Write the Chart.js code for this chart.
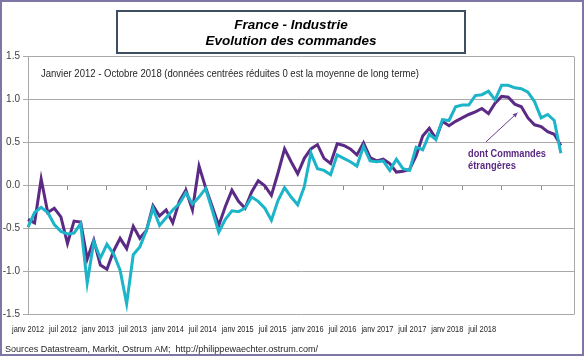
<!DOCTYPE html>
<html>
<head>
<meta charset="utf-8">
<script src="https://cdn.jsdelivr.net/npm/chart.js@4.4.1/dist/chart.umd.min.js"></script>
<style>
html,body{margin:0;padding:0;background:#fff;}
#wrap{position:relative;width:584px;height:356px;}
</style>
</head>
<body>
<div id="wrap"><canvas id="c" width="584" height="356"></canvas></div>
<script>
// ---- Data (monthly, Jan 2012 - Oct 2018; axis runs to Dec 2018) ----
const monthNames = ['janv','févr','mars','avr','mai','juin','juil','août','sept','oct','nov','déc'];
const years = [2012, 2013, 2014, 2015, 2016, 2017, 2018];
const categories = [];
years.forEach(y => monthNames.forEach(m => categories.push(m + ' ' + y)));

// Commandes totales (cyan)
const totalOrders = [
  -0.49, -0.32, -0.26, -0.32, -0.46, -0.54, -0.57, -0.56, -0.45, -1.14, -0.66, -0.85,
  -0.69, -0.80, -0.99, -1.38, -0.81, -0.72, -0.53, -0.27, -0.47, -0.38, -0.29, -0.22,
  -0.09, -0.22, -0.14, -0.04, -0.29, -0.55, -0.40, -0.30, -0.31, -0.27, -0.14, -0.19,
  -0.27, -0.41, -0.18, -0.03, -0.14, -0.23, -0.02, 0.37, 0.19, 0.17, 0.12, 0.35,
  0.31, 0.27, 0.22, 0.45, 0.28, 0.27, 0.28, 0.17, 0.30, 0.19, 0.17, 0.44,
  0.41, 0.59, 0.53, 0.76, 0.75, 0.91, 0.93, 0.93, 1.04, 1.05, 1.09, 0.99,
  1.16, 1.16, 1.13, 1.12, 1.08, 0.97, 0.78, 0.82, 0.75, 0.37
];
// dont Commandes étrangères (violet)
const foreignOrders = [
  -0.40, -0.44, 0.07, -0.32, -0.27, -0.37, -0.68, -0.42, -0.43, -0.86, -0.64, -0.93,
  -0.98, -0.77, -0.62, -0.74, -0.48, -0.62, -0.53, -0.24, -0.36, -0.29, -0.44, -0.19,
  -0.06, -0.29, 0.22, -0.03, -0.25, -0.47, -0.25, -0.06, -0.19, -0.27, -0.08, 0.05,
  -0.01, -0.12, 0.14, 0.42, 0.27, 0.13, 0.31, 0.42, 0.47, 0.31, 0.25, 0.48,
  0.46, 0.42, 0.35, 0.49, 0.32, 0.28, 0.30, 0.25, 0.15, 0.16, 0.18, 0.34,
  0.57, 0.66, 0.54, 0.74, 0.69, 0.74, 0.78, 0.82, 0.85, 0.89, 0.83, 0.95,
  1.03, 1.02, 0.94, 0.91, 0.78, 0.70, 0.68, 0.62, 0.59, 0.46
];
const tickLabels = ['janv 2012','juil 2012','janv 2013','juil 2013','janv 2014','juil 2014',
  'janv 2015','juil 2015','janv 2016','juil 2016','janv 2017','juil 2017','janv 2018','juil 2018'];
const yTicks = [-1.5, -1.0, -0.5, 0.0, 0.5, 1.0, 1.5];

const titleLines = ['France - Industrie', 'Evolution des commandes'];
const subtitle = 'Janvier 2012 - Octobre 2018 (données centrées réduites 0 est la moyenne de long terme)';
const annotationLines = ['dont Commandes', 'étrangères'];
const sourceText = 'Sources Datastream, Markit, Ostrum AM;  http://philippewaechter.ostrum.com/';

const PURPLE = '#5b2a84';
const CYAN = '#1cb4c8';
const GRID = '#a9a9a9';

const decor = {
  id: 'decor',
  beforeDraw(chart) {
    const ctx = chart.ctx;
    ctx.save();
    ctx.fillStyle = '#ffffff';
    ctx.fillRect(0, 0, chart.width, chart.height);
    ctx.restore();
  },
  afterDraw(chart) {
    const ctx = chart.ctx;
    const a = chart.chartArea;
    const xs = chart.scales.x, ys = chart.scales.y;
    ctx.save();
    // plot frame
    ctx.strokeStyle = GRID;
    ctx.lineWidth = 1;
    ctx.beginPath();
    ctx.moveTo(Math.round(a.right) + 0.5, Math.round(a.top) + 0.5);
    ctx.lineTo(Math.round(a.right) + 0.5, Math.round(a.bottom) + 0.5);
    ctx.stroke();

    // title box
    ctx.fillStyle = '#ffffff';
    ctx.fillRect(117, 11, 348, 42);
    ctx.strokeStyle = '#3e4d60';
    ctx.lineWidth = 2;
    ctx.strokeRect(117, 11, 348, 42);
    ctx.fillStyle = '#000000';
    ctx.font = 'italic bold 13.5px "Liberation Sans"';
    ctx.textAlign = 'center';
    ctx.textBaseline = 'alphabetic';
    ctx.fillText(titleLines[0], 291, 29);
    ctx.fillText(titleLines[1], 291, 45, 182);

    // subtitle
    ctx.textAlign = 'left';
    ctx.fillStyle = '#262626';
    ctx.font = '10.5px "Liberation Sans"';
    ctx.fillText(subtitle, a.left + 13, 77, 378);

    // x label row
    ctx.font = '9.5px "Liberation Sans"';
    ctx.fillStyle = '#262626';
    ctx.textAlign = 'center';
    const step = 34.94;
    tickLabels.forEach((t, k) => {
      const mw = t.indexOf('janv') === 0 ? 32 : 28;
      ctx.fillText(t, a.left + k * step, 332, mw);
    });

    // annotation
    ctx.fillStyle = PURPLE;
    ctx.textAlign = 'left';
    ctx.font = 'bold 10px "Liberation Sans"';
    ctx.fillText(annotationLines[0], 468, 157, 78);
    ctx.fillText(annotationLines[1], 468, 168.5, 48);
    // arrow towards the foreign-orders line
    const tipX = xs.getPixelForValue(74.4), tipY = ys.getPixelForValue(0.84);
    const tailX = xs.getPixelForValue(69.6), tailY = ys.getPixelForValue(0.50);
    ctx.strokeStyle = '#6b3b93';
    ctx.lineWidth = 1;
    ctx.beginPath();
    ctx.moveTo(tailX, tailY);
    ctx.lineTo(tipX, tipY);
    ctx.stroke();
    const ang = Math.atan2(tipY - tailY, tipX - tailX);
    ctx.fillStyle = '#6b3b93';
    ctx.beginPath();
    ctx.moveTo(tipX, tipY);
    ctx.lineTo(tipX - 5 * Math.cos(ang - 0.45), tipY - 5 * Math.sin(ang - 0.45));
    ctx.lineTo(tipX - 5 * Math.cos(ang + 0.45), tipY - 5 * Math.sin(ang + 0.45));
    ctx.closePath();
    ctx.fill();

    // source
    ctx.fillStyle = '#262626';
    ctx.font = '9.5px "Liberation Sans"';
    ctx.fillText(sourceText, 5, 352, 313);

    // outer border
    ctx.strokeStyle = '#7d77a5';
    ctx.lineWidth = 2;
    ctx.strokeRect(1, 1, chart.width - 2, chart.height - 2);
    ctx.restore();
  }
};

new Chart(document.getElementById('c'), {
  type: 'line',
  data: {
    labels: categories,
    datasets: [
      { label: 'Commandes', data: totalOrders, borderColor: CYAN, borderWidth: 3, pointRadius: 0, tension: 0, fill: false },
      { label: 'dont Commandes étrangères', data: foreignOrders, borderColor: PURPLE, borderWidth: 3, pointRadius: 0, tension: 0, fill: false }
    ]
  },
  options: {
    responsive: false,
    animation: false,
    devicePixelRatio: 1,
    layout: { padding: { left: 0, right: 10, top: 56, bottom: 42 } },
    plugins: { legend: { display: false }, tooltip: { enabled: false }, title: { display: false } },
    scales: {
      x: {
        type: 'category',
        position: { y: 0 },
        offset: false,
        ticks: { display: false, autoSkip: false },
        grid: {
          drawOnChartArea: false, drawTicks: true, tickLength: 4, lineWidth: 1,
          color: c => (c.index % 6 === 0 ? '#8c8c8c' : 'rgba(0,0,0,0)')
        },
        border: { display: true, color: GRID }
      },
      y: {
        min: -1.5, max: 1.5,
        afterBuildTicks: s => { s.ticks = yTicks.map(v => ({ value: v })); },
        afterFit: s => { s.width = 28; },
        ticks: {
          callback: v => Number(v).toFixed(1),
          font: { family: 'Liberation Sans', size: 10 },
          color: '#404040', padding: 3
        },
        grid: { color: GRID, lineWidth: 1, tickLength: 5, drawTicks: true },
        border: { display: true, color: GRID }
      }
    }
  },
  plugins: [decor]
});
</script>
</body>
</html>
